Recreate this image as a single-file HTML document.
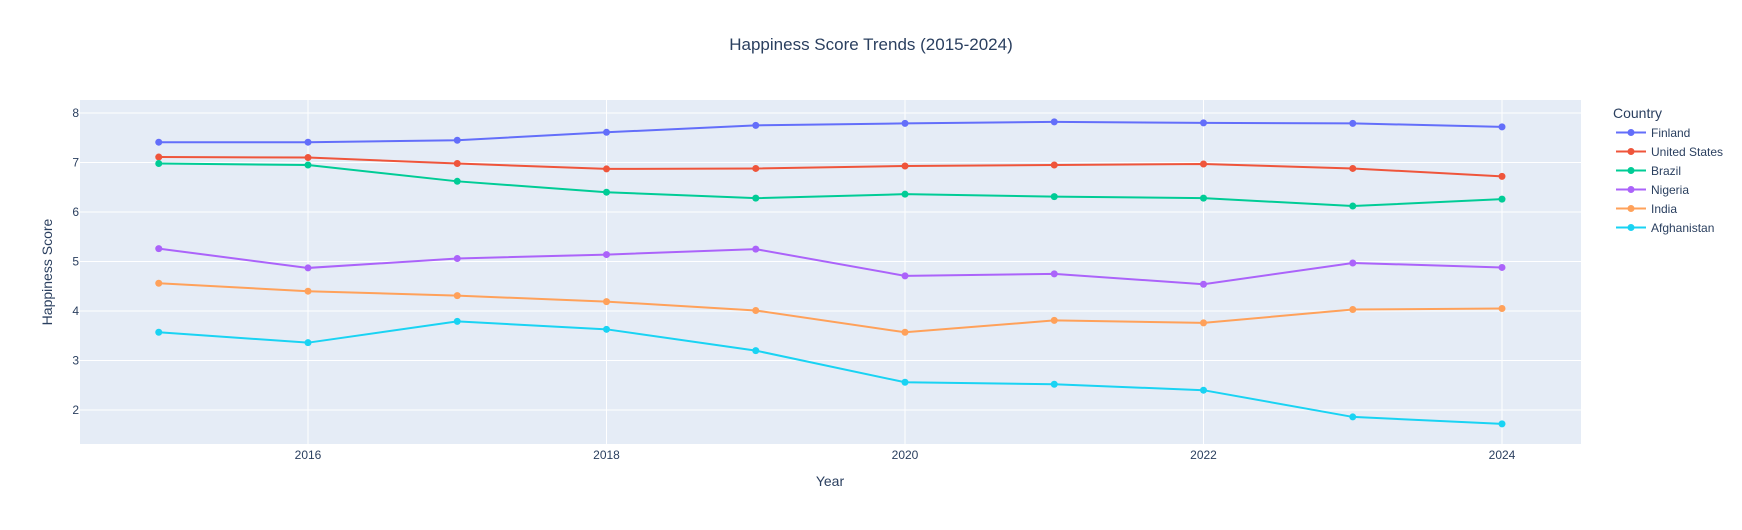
<!DOCTYPE html>
<html><head><meta charset="utf-8"><style>
body{margin:0;background:#fff;font-family:"Liberation Sans",Arial,sans-serif;}
svg text{font-family:"Liberation Sans",Arial,sans-serif;fill:#2a3f5f;}
</style></head><body>
<svg id="chart" width="1742" height="525">
<rect x="0" y="0" width="1742" height="525" fill="#fff"/>
<rect x="80" y="100" width="1501" height="344" fill="#e5ecf6"/>
<g id="grid"></g>
<g id="series"></g>
<text x="871" y="50" text-anchor="middle" font-size="17">Happiness Score Trends (2015-2024)</text>
<text x="830" y="486" text-anchor="middle" font-size="14">Year</text>
<text transform="translate(52,272) rotate(-90)" text-anchor="middle" font-size="14">Happiness Score</text>
<text x="1613" y="118" font-size="14">Country</text>
<g id="legend"></g>
</svg>
<script>
const years=[2015,2016,2017,2018,2019,2020,2021,2022,2023,2024];
const countries=["Finland","United States","Brazil","Nigeria","India","Afghanistan"];
const colors=["#636efa","#ef553b","#00cc96","#ab63fa","#ffa15a","#19d3f3"];
const finland=[7.41,7.41,7.45,7.61,7.75,7.79,7.82,7.80,7.79,7.72];
const us=[7.11,7.10,6.98,6.87,6.88,6.93,6.95,6.97,6.88,6.72];
const brazil=[6.98,6.95,6.62,6.40,6.28,6.36,6.31,6.28,6.12,6.26];
const nigeria=[5.26,4.87,5.06,5.14,5.25,4.71,4.75,4.54,4.97,4.88];
const india=[4.56,4.40,4.31,4.19,4.01,3.57,3.81,3.76,4.03,4.05];
const afghanistan=[3.57,3.36,3.79,3.63,3.20,2.56,2.52,2.40,1.86,1.72];
const xTicks=[2016,2018,2020,2022,2024];
const yTicks=[2,3,4,5,6,7,8];
const seriesData=[finland,us,brazil,nigeria,india,afghanistan];
const NS="http://www.w3.org/2000/svg";
function xs(v){return 308+(v-2016)*149.25;}
function ys(v){return 113+(8-v)*49.5;}
function mk(tag,attrs,parent){const e=document.createElementNS(NS,tag);for(const k in attrs)e.setAttribute(k,attrs[k]);parent.appendChild(e);return e;}
const grid=document.getElementById('grid');
yTicks.forEach(t=>{
 const l=mk('line',{x1:80,x2:1581,y1:ys(t),y2:ys(t),stroke:'#fff','stroke-width':1},grid);
 
 
 const tx=mk('text',{x:79-0,y:ys(t)+4,'text-anchor':'end','font-size':12},grid);
 tx.setAttribute('x',79);
 tx.textContent=t;
 
 
});
xTicks.forEach(t=>{
 const l=mk('line',{x1:xs(t),x2:xs(t),y1:100,y2:444,stroke:'#fff','stroke-width':1},grid);
 
 
 const tx=mk('text',{x:xs(t),y:459,'text-anchor':'middle','font-size':12},grid);
 tx.textContent=t;
 
 
});
const sg=document.getElementById('series');
const lg=document.getElementById('legend');
seriesData.forEach((d,i)=>{
 const g=mk('g',{},sg);
 
 
 const pts=d.map((v,j)=>xs(years[j])+','+ys(v)).join(' ');
 const pl=mk('polyline',{points:pts,fill:'none',stroke:colors[i],'stroke-width':2},g);
 
 
 d.forEach((v,j)=>{
  const c=mk('circle',{cx:xs(years[j]),cy:ys(v),r:3.5,fill:colors[i]},g);
  
  
 });
 const y=132.5+i*19;
 const e=mk('g',{},lg);
 
 
 mk('line',{x1:1616,x2:1646,y1:y,y2:y,stroke:colors[i],'stroke-width':2},e);
 mk('circle',{cx:1631,cy:y,r:3.5,fill:colors[i]},e);
 const t=mk('text',{x:1651,y:y+4.5,'font-size':12},e);
 t.textContent=countries[i];
});
</script>
</body></html>
